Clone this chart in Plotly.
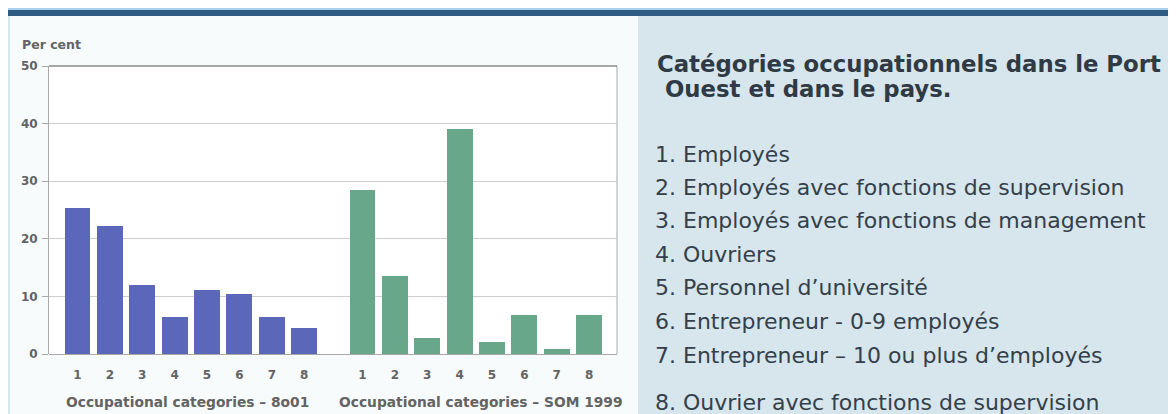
import plotly.graph_objects as go

categories = ["1", "2", "3", "4", "5", "6", "7", "8"]
bo01_values = [25.4, 22.3, 12.0, 6.5, 11.1, 10.4, 6.5, 4.5]
som1999_values = [28.4, 13.6, 2.8, 39.0, 2.1, 6.8, 0.9, 6.8]
group_titles = ["Occupational categories \u2013 8o01", "Occupational categories \u2013 SOM 1999"]
y_ticks = [0, 10, 20, 30, 40, 50]
panel_title = ["Cat\u00e9gories occupationnels dans le Port", " Ouest et dans le pays."]
legend_items = [
    "1. Employ\u00e9s",
    "2. Employ\u00e9s avec fonctions de supervision",
    "3. Employ\u00e9s avec fonctions de management",
    "4. Ouvriers",
    "5. Personnel d\u2019universit\u00e9",
    "6. Entrepreneur - 0-9 employ\u00e9s",
    "7. Entrepreneur \u2013 10 ou plus d\u2019employ\u00e9s",
    "8. Ouvrier avec fonctions de supervision",
]

# page offset (browser body margin) and reference pixel geometry
OFF = 8
W, H = 1176 - OFF, 414 - OFF
L, R, T, B = 49, 617, 66, 354
GROUP_GAP = 8.8

x1 = list(range(len(categories)))
x2 = [i + GROUP_GAP for i in range(len(categories))]

fig = go.Figure()
fig.add_trace(go.Bar(x=x1, y=bo01_values, width=0.8, marker=dict(color="#5b68b9", line=dict(width=0)),
                     showlegend=False))
fig.add_trace(go.Bar(x=x2, y=som1999_values, width=0.8, marker=dict(color="#69a78b", line=dict(width=0)),
                     showlegend=False))

def px_x(p):
    return (p - L) / (R - L)

def px_y(p):
    return (B - p) / (B - T)

shapes = [
    dict(type="rect", xref="paper", yref="paper", x0=px_x(638), x1=px_x(1190), y0=px_y(16), y1=px_y(430),
         fillcolor="#d7e5ec", line=dict(width=0), layer="below"),
    dict(type="rect", xref="paper", yref="paper", x0=px_x(-20), x1=px_x(1190), y0=px_y(10), y1=px_y(0),
         fillcolor="#a9d1ee", line=dict(width=0), layer="below"),
    dict(type="rect", xref="paper", yref="paper", x0=px_x(-20), x1=px_x(1190), y0=px_y(16), y1=px_y(10),
         fillcolor="#2f5b82", line=dict(width=0), layer="below"),
    dict(type="line", xref="paper", yref="paper", x0=px_x(9), x1=px_x(9), y0=px_y(16), y1=px_y(430),
         line=dict(color="#d3eaf1", width=2), layer="below"),
    dict(type="rect", xref="paper", yref="paper", x0=0, x1=1, y0=0, y1=1,
         fillcolor="#ffffff", line=dict(width=0), layer="below"),
    dict(type="line", xref="paper", yref="paper", x0=1, x1=1, y0=0, y1=1,
         line=dict(color="#c4c4c4", width=1.5)),
    dict(type="line", xref="paper", yref="paper", x0=0, x1=1, y0=1, y1=1,
         line=dict(color="#8a8a8a", width=1.5)),
]

chart_font = dict(family="DejaVu Sans", color="#636363", weight="bold")

annotations = [
    dict(text="Per cent", xref="paper", yref="paper", x=px_x(20), y=px_y(44), xanchor="left", yanchor="middle",
         showarrow=False, font=dict(size=12.5, **chart_font)),
    dict(text=group_titles[0], xref="paper", yref="paper", x=px_x(187), y=px_y(402),
         xanchor="center", yanchor="middle", showarrow=False, font=dict(size=13.8, **chart_font)),
    dict(text=group_titles[1], xref="paper", yref="paper", x=px_x(481), y=px_y(402),
         xanchor="center", yanchor="middle", showarrow=False, font=dict(size=13.8, **chart_font)),
]

for txt, yy in zip(panel_title, [64, 89]):
    annotations.append(dict(text=txt, xref="paper", yref="paper", x=px_x(655), y=px_y(yy),
                            xanchor="left", yanchor="middle", showarrow=False,
                            font=dict(family="DejaVu Sans", size=22.8, color="#2f3a44", weight="bold")))

item_y = [154, 187, 220, 254, 287, 321, 355, 402]
for txt, yy in zip(legend_items, item_y):
    annotations.append(dict(text=txt, xref="paper", yref="paper", x=px_x(653), y=px_y(yy),
                            xanchor="left", yanchor="middle", showarrow=False,
                            font=dict(family="DejaVu Sans", size=22, color="#33404a")))

fig.update_layout(
    width=W, height=H,
    margin=dict(l=L - OFF, r=W - (R - OFF), t=T - OFF, b=H - (B - OFF), pad=0),
    paper_bgcolor="#f8fbfc",
    plot_bgcolor="#ffffff",
    bargap=0,
    shapes=shapes,
    annotations=annotations,
    xaxis=dict(range=[-0.88, x2[-1] + 0.86], tickvals=x1 + x2, ticktext=categories + categories,
               showgrid=False, zeroline=False, showline=False, ticks="", ticklabelstandoff=12,
               tickfont=dict(size=12, **chart_font), fixedrange=True),
    yaxis=dict(range=[0, 50], tickvals=y_ticks, showgrid=True, gridcolor="#cdcdcd", gridwidth=1,
               zeroline=True, zerolinecolor="#a8a8a8", zerolinewidth=1,
               showline=True, linecolor="#a8a8a8", linewidth=1,
               ticks="outside", ticklen=6, tickcolor="#a8a8a8", ticklabelstandoff=2,
               tickfont=dict(size=12, **chart_font), fixedrange=True),
)

fig.write_html("out.html")
